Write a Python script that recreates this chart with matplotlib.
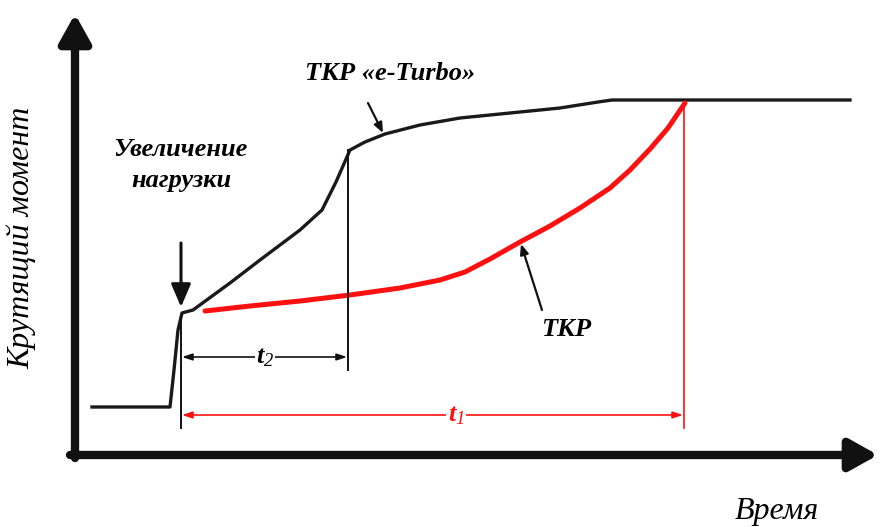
import matplotlib.pyplot as plt

# values (time, torque in picture units; torque counted from the top)
H = 527
black_t = [92, 170, 174, 178, 182, 193, 230, 260, 300, 322, 336, 350, 365, 385, 420, 460, 520, 560, 598, 612, 850]
black_m = [407, 407, 370, 330, 313, 310, 283, 260, 230, 210, 182, 150, 142, 134, 125, 118, 112, 108, 102, 100, 100]
red_t = [205, 250, 300, 350, 400, 440, 465, 490, 520, 550, 580, 610, 630, 650, 668, 685]
red_m = [311, 306, 301, 295, 288, 280, 272, 259, 242, 226, 208, 188, 170, 149, 128, 103]
t_start, t_turbo, t_end = 181, 348, 684

plt.rcParams['font.family'] = ['Liberation Serif', 'DejaVu Serif']
plt.rcParams['mathtext.fontset'] = 'custom'
plt.rcParams['mathtext.it'] = 'Liberation Serif:italic:bold'
plt.rcParams['mathtext.rm'] = 'Liberation Serif:italic'

fig = plt.figure(figsize=(8.82, 5.27), dpi=100)
ax = fig.add_axes([0, 0, 1, 1])
ax.set_xlim(0, 882)
ax.set_ylim(0, H)
ax.axis('off')

def y(v):
    return H - v

# axes arrows
head = '-|>,head_length=1.7,head_width=0.95'
ax.annotate('', xy=(75, y(14)), xytext=(75, y(458)),
            arrowprops=dict(arrowstyle=head, lw=6, color='#111111', shrinkA=0, shrinkB=0))
ax.annotate('', xy=(878, y(455)), xytext=(70, y(455)),
            arrowprops=dict(arrowstyle=head, lw=6, color='#111111', shrinkA=0, shrinkB=0))

# curves
ax.plot(black_t, [y(v) for v in black_m], color='#1a1a1a', lw=2.4, solid_joinstyle='round')
ax.plot(red_t, [y(v) for v in red_m], color='#ff1010', lw=3.6, solid_capstyle='round')

# vertical markers
ax.plot([t_start, t_start], [y(315), y(428)], color='#111111', lw=1.4)
ax.plot([t_turbo, t_turbo], [y(150), y(370)], color='#111111', lw=1.4)
ax.plot([t_end, t_end], [y(103), y(428)], color='#ff1010', lw=1.2)

# t2 and t1 dimension arrows
ax.annotate('', xy=(t_start + 1, y(357)), xytext=(t_turbo - 1, y(357)),
            arrowprops=dict(arrowstyle='<|-|>,head_length=0.6,head_width=0.2', lw=1.2, color='#111111',
                            shrinkA=0, shrinkB=0))
ax.text(265, y(358), r'$t_{2}$', fontsize=19, ha='center', va='center',
        bbox=dict(fc='white', ec='none', pad=1))
ax.annotate('', xy=(t_start + 1, y(415)), xytext=(t_end - 1, y(415)),
            arrowprops=dict(arrowstyle='<|-|>,head_length=0.6,head_width=0.2', lw=1.2, color='#ff1010',
                            shrinkA=0, shrinkB=0))
ax.text(456, y(416), r'$t_{1}$', fontsize=19, ha='center', va='center', color='#ff1010',
        bbox=dict(fc='white', ec='none', pad=1))

# load arrow
ax.annotate('', xy=(t_start, y(307)), xytext=(t_start, y(243)),
            arrowprops=dict(arrowstyle='-|>,head_length=1.4,head_width=0.6', lw=2.2, color='#111111',
                            shrinkA=0, shrinkB=0))
ax.text(180, y(149), 'Увеличение', fontsize=19, fontweight='bold', style='italic', ha='center', va='center')
ax.text(181, y(181), 'нагрузки', fontsize=19, fontweight='bold', style='italic', ha='center', va='center')

# curve labels
ax.text(390, y(74), 'ТКР «e-Turbo»', fontsize=19, fontweight='bold', style='italic', ha='center', va='center')
ax.annotate('', xy=(383, y(133)), xytext=(368, y(103)),
            arrowprops=dict(arrowstyle='-|>,head_length=0.6,head_width=0.25', lw=1.6, color='#111111',
                            shrinkA=0, shrinkB=0))
ax.text(566, y(329), 'ТКР', fontsize=19, fontweight='bold', style='italic', ha='center', va='center')
ax.annotate('', xy=(521, y(244)), xytext=(542, y(310)),
            arrowprops=dict(arrowstyle='-|>,head_length=0.6,head_width=0.25', lw=1.6, color='#111111',
                            shrinkA=0, shrinkB=0))

# axis titles
ax.text(22, y(238), 'Крутящий момент', fontsize=23, style='italic', rotation=90, ha='center', va='center')
ax.text(777, y(511), 'Время', fontsize=23, style='italic', ha='center', va='center')

fig.savefig('out.png', dpi=100)
